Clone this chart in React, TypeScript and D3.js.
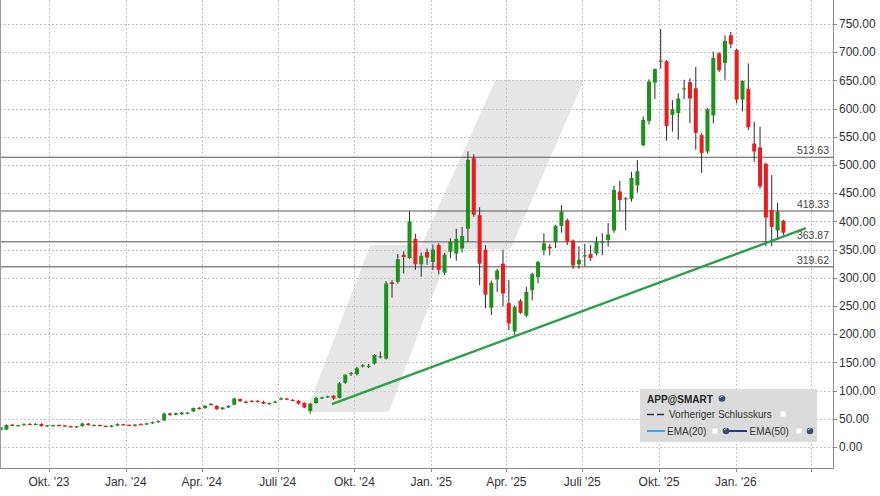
import React, { useEffect } from 'react';
import * as d3 from 'd3';

// Weekly candles (week ending Friday), Aug 2023 – Feb 2026
const openP = [30,31,39.5,38,39.5,41,40,41,37,37.8,39,38.3,37,35,37,41.5,38,39,37.5,36,38,40.5,39.2,38.5,40.5,40,42,44.5,47,59.5,
  57,58,60,63,69.5,69,76,73,67,70,75,85,80.5,82,82,80,76,79,85,86,83.5,82,78.5,64,78,86,88,91,87,114,
  129,129,143,142.5,148,159,157,292,293,341,335,369,324,346,328,358,309,346,343,352,387,512,411,350,247,297,325,255,205,259,
  233,278,301,349,355,364,392,402,366,324,339,342,343,362,367,384,453,439,440,464,535,578,646,685,684,589,592,635,647,636,
  553,524,588,698,681,730,704,616,635,538,531,502,420,384,401];
const highP = [36,40,41,39.5,42,42,42,42,39,39.5,40,39,38,37.5,43,42.5,40,40,38,39,42,41,40,40.5,42,43,45,47,61,61,
  61,62,62,70,71,74,78,74,71,74,87,86,82,83,83,82,79,82,88,87,85,83,79,78,89,89,91,92,115,129,
  133,142,147,147,165,169,294,296,342,347,418,378,345,352,359,361,344,370,387,390,524,519,425,358,295,316,350,296,251,262,
  284,309,330,379,360,394,429,405,368,356,360,358,373,379,397,463,472,443,488,509,586,652,671,741,686,615,627,651,654,674,
  556,601,701,700,730,736,706,650,680,577,568,504,482,433,403];
const lowP = [29,30,37,37,38.5,39,39,36,36,37,37,36,34.5,34,36,38,37,37,35,35,37,38,38,36,39,39,41,43,46,55,
  56,57,58,62,66,68,74,66,66,69,74,80,77,79,79,76,75,78,83,83,81,75,69,59,77,85,87,84,86,112,
  126,127,141,140,146,157,155,265,290,308,333,314,302,323,314,306,305,335,330,345,364,408,287,246,234,275,249,207,199,236,
  230,260,290,340,340,353,380,358,316,316,320,330,340,340,355,380,419,384,435,451,533,572,617,671,543,559,545,617,574,527,
  486,520,574,665,651,707,609,595,562,506,458,356,356,367,376];
const closeP = [35,39,38,38.8,40.3,40,41,37.2,38.3,38.8,38,37,35.5,36.8,41.5,39,39,38,36,38,40.5,39.2,38.6,39.8,39.8,42,44,46,59,57,
  60,61,61,69,68,73,75,67,70,73,86,81,79.5,81,81,77,78,80.5,86,84,83,77,70,77,87,88,90,86,113,128,
  131,139.5,145,144,163,161,290,289,333,337,400,324,339,336,350,314,341,364,369,374,509,412,325,270,291,313,272,219,248,238,
  275,307,328,361,352,392,417,364,322,332,340,335,364,365,377,456,438,441,477,489,580,648,670,683,569,599,618,636,618,557,
  521,599,690,668,720,714,616,649,567,524,462,407,390,417,380];

const firstWeek = new Date(2023, 7, 4);
const lastWeek = new Date(2026, 1, 27);
const weekDates = d3.timeFriday.range(firstWeek, d3.timeDay.offset(lastWeek, 1));

const levelValues = [513.63, 418.33, 363.87, 319.62];
const levelLabels = ['513.63', '418.33', '363.87', '319.62'];

const trendDates = [new Date(2024, 8, 4), new Date(2026, 2, 26)];
const trendValues = [76, 388];

const yTickValues = [0, 50, 100, 150, 200, 250, 300, 350, 400, 450, 500, 550, 600, 650, 700, 750];
const quarterDates = [
  new Date(2023, 9, 1), new Date(2024, 0, 1), new Date(2024, 3, 1), new Date(2024, 6, 1),
  new Date(2024, 9, 1), new Date(2025, 0, 1), new Date(2025, 3, 1), new Date(2025, 6, 1),
  new Date(2025, 9, 1), new Date(2026, 0, 1), new Date(2026, 3, 1),
];
const quarterLabels = ["Okt. '23", "Jan. '24", "Apr. '24", "Juli '24", "Okt. '24", "Jan. '25", "Apr. '25", "Juli '25", "Okt. '25", "Jan. '26"];

const FONT = 'Liberation Sans, Arial, sans-serif';

function Globe({ cx, cy }: { cx: number; cy: number }) {
  return (
    <g>
      <circle cx={cx} cy={cy} r={3.3} fill="#3b4d6e" />
      <path d={`M${cx - 1.8},${cy - 0.6} A2,2 0 0 1 ${cx + 0.6},${cy - 2.2}`} stroke="#dfe6f0" strokeWidth={1} fill="none" />
    </g>
  );
}

export default function App() {
  useEffect(() => {
    document.body.style.margin = '0';
  }, []);
  const W = 880, H = 496;
  const plotR = 833, plotB = 468;
  const x = d3.scaleTime().domain([new Date(2023, 7, 3, 7), new Date(2026, 3, 27, 10)]).range([0, plotR]);
  const y = d3.scaleLinear().domain([0, 750]).range([447, 24]);

  const candles = weekDates.map((d, i) => ({ d, o: openP[i], h: highP[i], l: lowP[i], c: closeP[i] }));
  const bodyW = 4;
  const trendPts: [Date, number][] = trendDates.map((d, i) => [d, trendValues[i]]);
  const trendLine = d3.line<[Date, number]>().x(p => x(p[0])).y(p => y(p[1]));

  const bandFill = '#e6e6e6';
  const bandA = '498,84 578,84 508,245 426,245';
  const bandB = '373,249 446,249 386,408 312,408';

  return (
    <svg width={W} height={H} style={{ position: 'absolute', left: 0, top: 0, background: '#fff' }} fontFamily={FONT}>
      <rect x={0} y={0} width={W} height={H} fill="#fff" />
      <defs>
        <clipPath id="plotclip"><rect x={0} y={0} width={plotR} height={plotB} /></clipPath>
      </defs>
      {/* watermark band */}
      <g fill={bandFill} stroke={bandFill} strokeWidth={8} strokeLinejoin="round">
        <polygon points={bandA} />
        <polygon points={bandB} />
      </g>
      {/* grid */}
      <g stroke="#c6c6c6" strokeWidth={1} strokeDasharray="2,2">
        {yTickValues.map(v => (
          <line key={'gy' + v} x1={0} x2={plotR} y1={Math.round(y(v)) + 0.5} y2={Math.round(y(v)) + 0.5} />
        ))}
        {quarterDates.map((d, i) => (
          <line key={'gx' + i} x1={Math.round(x(d)) + 0.5} x2={Math.round(x(d)) + 0.5} y1={0} y2={plotB} />
        ))}
      </g>
      {/* level lines */}
      {levelValues.map((v, i) => (
        <g key={'lv' + i}>
          <line x1={0} x2={plotR} y1={y(v)} y2={y(v)} stroke={i < 2 ? '#555' : '#888'} strokeWidth={i < 2 ? 1.1 : 1.6} />
          <text x={829} y={y(v) - 3} textAnchor="end" fontSize={10.5} fill="#444">{levelLabels[i]}</text>
        </g>
      ))}
      {/* candles */}
      <g clipPath="url(#plotclip)">
        {candles.map((k, i) => {
          const cx = x(k.d);
          const up = k.c >= k.o;
          const top = y(Math.max(k.o, k.c));
          const bot = y(Math.min(k.o, k.c));
          return (
            <g key={'c' + i}>
              <line x1={cx} x2={cx} y1={y(k.h)} y2={y(k.l)} stroke="#2a2a2a" strokeWidth={1} />
              <rect x={cx - bodyW / 2} y={top} width={bodyW} height={Math.max(1.2, bot - top)} fill={up ? '#1c921c' : '#ec1c1c'} />
            </g>
          );
        })}
        <path d={trendLine(trendPts) || ''} stroke="#2e9e48" strokeWidth={2.4} fill="none" />
      </g>
      {/* frame */}
      <line x1={0.5} x2={0.5} y1={0} y2={plotB} stroke="#9a9a9a" />
      <line x1={plotR + 0.5} x2={plotR + 0.5} y1={0} y2={plotB + 0.5} stroke="#8a8a8a" />
      <line x1={0} x2={plotR + 0.5} y1={plotB + 0.5} y2={plotB + 0.5} stroke="#8a8a8a" />
      {/* y axis */}
      {yTickValues.map(v => (
        <g key={'yt' + v}>
          <line x1={plotR} x2={plotR + 4} y1={Math.round(y(v)) + 0.5} y2={Math.round(y(v)) + 0.5} stroke="#8a8a8a" />
          <text x={839} y={y(v)} dy="0.35em" fontSize={12} fill="#333">{d3.format('.2f')(v)}</text>
        </g>
      ))}
      {/* x axis */}
      {quarterDates.map((d, i) => (
        <g key={'xt' + i}>
          <line x1={Math.round(x(d)) + 0.5} x2={Math.round(x(d)) + 0.5} y1={plotB} y2={plotB + 4} stroke="#8a8a8a" />
          {quarterLabels[i] && (
            <text x={x(d)} y={486} textAnchor="middle" fontSize={12} fill="#333">{quarterLabels[i]}</text>
          )}
        </g>
      ))}
      {/* legend */}
      <g>
        <rect x={640} y={389} width={177} height={53} fill="#dbdbdb" />
        <text x={647} y={402.5} fontSize={10} fontWeight="bold" fill="#222">APP@SMART</text>
        <Globe cx={722} cy={398.5} />
        <line x1={647} x2={664} y1={414.5} y2={414.5} stroke="#333" strokeWidth={1.5} strokeDasharray="7,3" />
        <text x={669} y={418} fontSize={10} fill="#333">Vorheriger Schlusskurs</text>
        <rect x={780.5} y={411.5} width={5} height={5} fill="#fff" />
        <line x1={647} x2={665} y1={431} y2={431} stroke="#3b9be0" strokeWidth={1.8} />
        <text x={667} y={434.5} fontSize={10} fill="#333">EMA(20)</text>
        <rect x={712.5} y={428.5} width={5} height={5} fill="#fff" />
        <Globe cx={726} cy={431} />
        <line x1={729} x2={747} y1={431} y2={431} stroke="#17237a" strokeWidth={1.8} />
        <text x={749.5} y={434.5} fontSize={10} fill="#333">EMA(50)</text>
        <rect x={796.5} y={428.5} width={5} height={5} fill="#fff" />
        <Globe cx={810} cy={431} />
      </g>
    </svg>
  );
}
